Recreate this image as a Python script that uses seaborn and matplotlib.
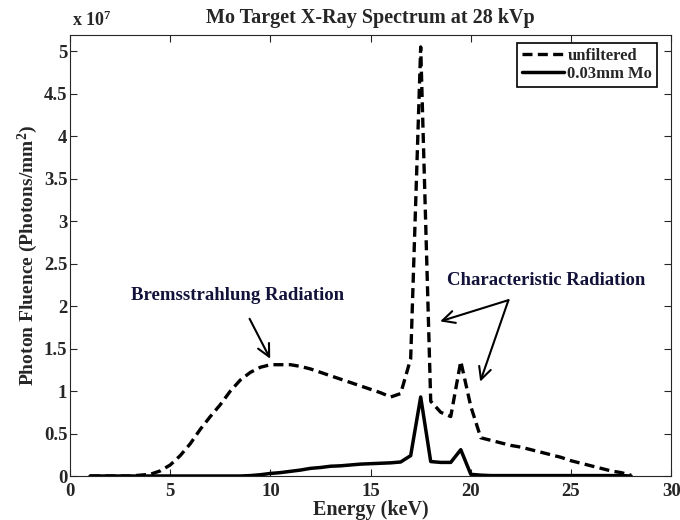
import numpy as np
import pandas as pd
import matplotlib
matplotlib.use("Agg")
import matplotlib.pyplot as plt
import seaborn as sns

# energy grid (keV) and photon fluence in units of 1e7 photons/mm^2
energy = [1, 2, 3, 3.5, 4, 4.5, 5, 5.5, 6, 6.5, 7, 7.5, 8, 8.5, 9, 9.5, 10,
          10.5, 11, 11.5, 12, 12.5, 13, 13.5, 14, 14.5, 15, 15.5, 16, 16.5,
          17, 17.5, 18, 18.5, 19, 19.5, 20, 20.5, 21, 21.5, 22, 22.5, 23,
          23.5, 24, 24.5, 25, 25.5, 26, 26.5, 27, 27.5, 28]

unfiltered = [0, 0, 0, 0.01, 0.02, 0.06, 0.13, 0.24, 0.38, 0.55, 0.70, 0.84,
              1.00, 1.13, 1.22, 1.28, 1.31, 1.31, 1.31, 1.29, 1.26, 1.22,
              1.18, 1.14, 1.10, 1.06, 1.02, 0.98, 0.93, 0.97, 1.38, 5.05,
              0.88, 0.75, 0.70, 1.35, 0.82, 0.45, 0.42, 0.39, 0.36, 0.34,
              0.31, 0.28, 0.25, 0.22, 0.18, 0.15, 0.12, 0.09, 0.06, 0.04, 0.01]

filtered = [0, 0, 0, 0, 0, 0, 0, 0, 0, 0, 0, 0, 0, 0, 0.005, 0.015, 0.03,
            0.04, 0.055, 0.07, 0.09, 0.10, 0.115, 0.12, 0.13, 0.14, 0.145,
            0.15, 0.155, 0.165, 0.24, 0.93, 0.17, 0.16, 0.16, 0.31, 0.02,
            0.01, 0.005, 0.005, 0.005, 0.005, 0.005, 0.005, 0.005, 0.005,
            0.005, 0.005, 0.005, 0.005, 0.005, 0.005, 0.0]

df = pd.DataFrame({"Energy": energy, "unfiltered": unfiltered,
                   "0.03mm Mo": filtered})

sns.set_style("ticks")
plt.rcParams["font.family"] = ["Liberation Serif", "DejaVu Serif"]
plt.rcParams["mathtext.fontset"] = "custom"
plt.rcParams["mathtext.rm"] = "Liberation Serif:bold"
plt.rcParams["mathtext.it"] = "Liberation Serif:bold"

fig = plt.figure(figsize=(6.8, 5.2), dpi=100)
ax = fig.add_axes([0.103, 0.0846, 0.884, 0.848])

sns.lineplot(data=df, x="Energy", y="unfiltered", ax=ax, color="black",
             lw=2.4, label="unfiltered")
ax.lines[-1].set_dashes([3, 1.6])
sns.lineplot(data=df, x="Energy", y="0.03mm Mo", ax=ax, color="black",
             lw=2.5, label="0.03mm Mo")

ax.set_xlim(0, 30)
ax.set_ylim(0, 5.19)
ax.set_xticks(np.arange(0, 31, 5))
ax.set_yticks(np.arange(0, 5.01, 0.5))
ax.set_yticklabels(["0", "0.5", "1", "1.5", "2", "2.5", "3", "3.5", "4", "4.5", "5"])
ax.tick_params(direction="in", top=True, right=True, length=5, width=0.8,
               labelsize=13.5)
ax.tick_params(axis="y", pad=2)
ax.tick_params(axis="x", pad=5)
for lab in ax.get_xticklabels() + ax.get_yticklabels():
    lab.set_fontweight("bold")
for s in ax.spines.values():
    s.set_linewidth(0.8)

ax.set_title("Mo Target X-Ray Spectrum at 28 kVp", fontsize=14.5,
             fontweight="bold", pad=9)
ax.set_xlabel("Energy (keV)", fontsize=14.5, fontweight="bold", labelpad=0)
ax.set_ylabel("Photon Fluence (Photons/mm$^2$)", fontsize=14,
              fontweight="bold", labelpad=3)
ax.text(0.003, 1.012, "x 10$^7$", transform=ax.transAxes, fontsize=13,
        fontweight="bold", ha="left", va="bottom")

leg = ax.legend(loc="upper right", bbox_to_anchor=(0.977, 0.982),
                fontsize=12, frameon=True, fancybox=False,
                handlelength=2.5, handletextpad=0.2, borderpad=0.3,
                labelspacing=0.1, borderaxespad=0)
leg.get_frame().set_edgecolor("black")
leg.get_frame().set_linewidth(1.2)
leg.get_frame().set_alpha(1)
for t in leg.get_texts():
    t.set_fontweight("bold")

txt_color = "#12123a"
ax.annotate("Bremsstrahlung Radiation", xy=(9.99, 1.38), xytext=(8.37, 2.12),
            fontsize=13.5, fontweight="bold", color=txt_color, ha="center",
            va="center",
            arrowprops=dict(arrowstyle="->", color="black", lw=1.5,
                            mutation_scale=22, shrinkA=9, shrinkB=0))
ax.text(23.75, 2.30, "Characteristic Radiation", fontsize=13.5,
        fontweight="bold", color=txt_color, ha="center", va="center")
for head in [(18.47, 1.82), (20.47, 1.11)]:
    ax.annotate("", xy=head, xytext=(21.88, 2.07),
                arrowprops=dict(arrowstyle="->", color="black", lw=1.5,
                                mutation_scale=22, shrinkA=0, shrinkB=0))

fig.savefig("out.png", dpi=100)
